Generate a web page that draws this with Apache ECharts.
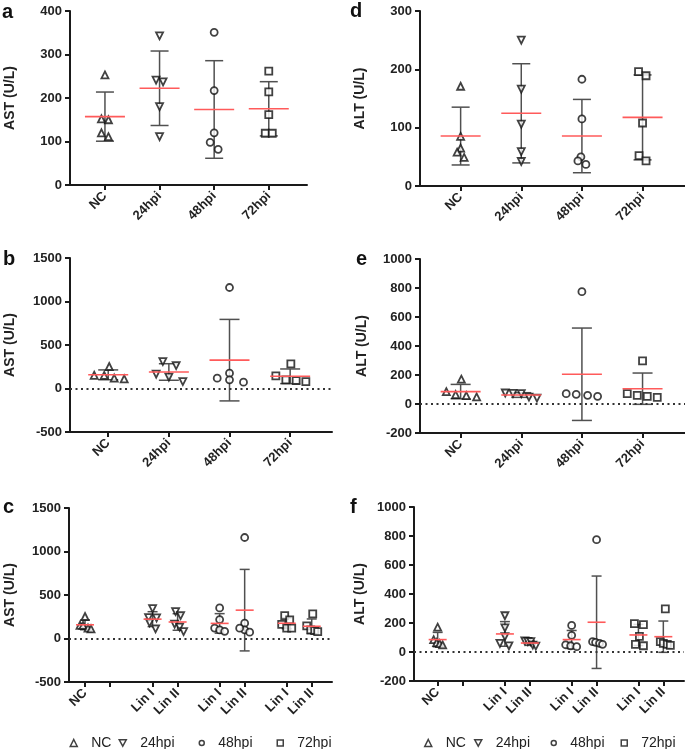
<!DOCTYPE html>
<html>
<head>
<meta charset="utf-8">
<script src="https://cdn.jsdelivr.net/npm/echarts@6/dist/echarts.min.js"></script>
<style>
  html, body { margin: 0; padding: 0; background: #fff; }
  #chart { width: 685px; height: 749px; }
</style>
</head>
<body>
<div id="chart"></div>
<script>
const groupNames = ['NC', '24hpi', '48hpi', '72hpi'];
const lineageNames = ['Lin I', 'Lin II'];

// AST (U/L): NC, then 24/48/72 hpi for each lineage
const astNC = [253, 152, 150, 120, 111];
const astLinI = [[343, 241, 237, 180, 111], [351, 217, 120, 98, 82], [262, 214, 162, 119, 119]];
const astLinII = [[165, 310, 130, 264, 80], [1161, 176, 100, 119, 73], [146, 100, 284, 92, 80]];

// ALT (U/L)
const altNC = [171, 85, 65, 58, 49];
const altLinI = [[250, 166, 106, 59, 42], [183, 115, 50, 43, 37], [196, 189, 108, 52, 43]];
const altLinII = [[76, 73, 71, 48, 41], [71, 67, 775, 60, 53], [71, 60, 298, 53, 46]];

// y ticks [min, max, step]
const astTicksA = [0, 400, 100];
const altTicksD = [0, 300, 100];
const astTicksBC = [-500, 1500, 500];
const altTicksEF = [-200, 1000, 200];

// horizontal scatter spread of the dots, in px
const jitterA = [[0, -3.5, 3.5, -3.5, 3.5], [0, -3.5, 3.5, 0, 0], [0, 0, 0, -4, 4], [0, 0, 0, -3.5, 3.5]];
const jitterD = [[0, 0, 0, -3.5, 3.5], [0, 0, 0, 0, 0], [0, 0, -1, -4, 4], [-4, 3.5, 0, -3.5, 3.5]];
const jitterB = [[1, -14, -4, 6, 16], [-12.7, -6, 0, 7.3, 14], [0, 0, 0, -12.3, 14], [-14.3, -4.3, 0.7, 6, 15.7]];
const jitterE = [[0.7, -14.3, -5, 5.7, 16], [-16, -8.3, 0, 7.7, 15.7], [-15.7, -5.7, 0, 5.7, 15.7], [-15.3, -5.3, 0, 4.7, 14.7]];
// c / f order: NC, Lin I 24/48/72, Lin II 24/48/72
const jitterC = [[0, -5, -2, 3, 6], [0, -4, 4, -3, 3], [0, 0, -5, 0, 5], [-2, 3, -5, 0, 5], [-3, -2, 2, 3, 6], [0, 0, 0, -5, 5], [-5, -1, 1, 3, 6]];
const jitterF = [[0, -4, -1, 2, 5], [0, 0, 0, -5, 4], [0, 0, -6, -1, 5], [-4, 5, 1, -3, 5], [-5, -2, 1, 3, 6], [-4, -1, 0, 3, 6], [-3, 0, 2, 4, 7]];

// layout of the combined panels (x slots)
const slotNC = 0, slotGap = 1;
const slotLinI = [2.7, 5.38, 8.06];
const slotLinII = [3.7, 6.38, 9.06];

const FONT = "'Liberation Sans', Arial, sans-serif";
const AXIS_COLOR = '#1a1a1a';
const symbols = ['triangle', 'triangle', 'circle', 'rect'];
const symbolRot = [0, 180, 0, 0];

function stats(vals) {
  const n = vals.length;
  const m = vals.reduce((a, b) => a + b, 0) / n;
  const sd = Math.sqrt(vals.reduce((a, b) => a + (b - m) * (b - m), 0) / (n - 1));
  return [m, sd];
}

// columns: {x, group, vals, jit}
function simpleCols(nc, lin, jit) {
  const cols = [{ x: 0, group: 0, vals: nc, jit: jit[0] }];
  lin.forEach((v, i) => cols.push({ x: i + 1, group: i + 1, vals: v, jit: jit[i + 1] }));
  return cols;
}
function comboCols(nc, linI, linII, jit) {
  const cols = [{ x: slotNC, group: 0, vals: nc, jit: jit[0] }];
  linI.forEach((v, i) => cols.push({ x: slotLinI[i], group: i + 1, vals: v, jit: jit[i + 1] }));
  linII.forEach((v, i) => cols.push({ x: slotLinII[i], group: i + 1, vals: v, jit: jit[i + 4] }));
  return cols;
}

const simpleTicks = [0, 1, 2, 3];
const comboTicks = [slotNC, slotGap].concat(slotLinI, slotLinII).sort((a, b) => a - b);
const comboLabelVals = [slotNC].concat(slotLinI, slotLinII).sort((a, b) => a - b);
function comboLabel(v) {
  if (v === slotNC) return 'NC';
  if (slotLinI.indexOf(v) >= 0) return lineageNames[0];
  if (slotLinII.indexOf(v) >= 0) return lineageNames[1];
  return '';
}

const panels = [
  { letter: 'a', lx: 2, ly: 22, grid: { left: 70, top: 11, width: 237, height: 174 }, xr: [-0.64, 3.7], ticks: astTicksA,
    name: 'AST (U/L)', gap: 53, cols: simpleCols(astNC, astLinI, jitterA), combo: false, cap: 9, half: 20, zero: false },
  { letter: 'd', lx: 350, ly: 21, grid: { left: 420, top: 11, width: 265, height: 175 }, xr: [-0.67, 3.7], ticks: altTicksD,
    name: 'ALT (U/L)', gap: 53, cols: simpleCols(altNC, altLinI, jitterD), combo: false, cap: 9, half: 20, zero: false },
  { letter: 'b', lx: 3, ly: 269, grid: { left: 70, top: 258, width: 262, height: 174 }, xr: [-0.63, 3.69], ticks: astTicksBC,
    name: 'AST (U/L)', gap: 53, cols: simpleCols(astNC, astLinII, jitterB), combo: false, cap: 10, half: 20, zero: true },
  { letter: 'e', lx: 356, ly: 269, grid: { left: 420, top: 259, width: 265, height: 174 }, xr: [-0.67, 3.7], ticks: altTicksEF,
    name: 'ALT (U/L)', gap: 51, cols: simpleCols(altNC, altLinII, jitterE), combo: false, cap: 10, half: 20, zero: true },
  { letter: 'c', lx: 3, ly: 517, grid: { left: 69, top: 508, width: 263, height: 174 }, xr: [-0.64, 9.87], ticks: astTicksBC,
    name: 'AST (U/L)', gap: 52, cols: comboCols(astNC, astLinI, astLinII, jitterC), combo: true, cap: 5, half: 9, zero: true },
  { letter: 'f', lx: 350, ly: 517, grid: { left: 414, top: 507, width: 270, height: 174 }, xr: [-0.95, 9.89], ticks: altTicksEF,
    name: 'ALT (U/L)', gap: 47, cols: comboCols(altNC, altLinI, altLinII, jitterF), combo: true, cap: 5, half: 9, zero: true }
];

const grids = [], xAxes = [], yAxes = [], series = [], graphics = [];

panels.forEach((p, pi) => {
  grids.push(Object.assign({ outerBoundsMode: 'none', containLabel: false }, p.grid));
  xAxes.push({
    type: 'value', gridIndex: pi, min: p.xr[0], max: p.xr[1],
    splitLine: { show: false },
    axisLine: { show: true, onZero: false, lineStyle: { color: AXIS_COLOR, width: 2 } },
    axisTick: { show: true, length: 5, customValues: p.combo ? comboTicks : simpleTicks, lineStyle: { color: AXIS_COLOR, width: 2 } },
    axisLabel: {
      customValues: p.combo ? comboLabelVals : simpleTicks, rotate: 45, margin: 9,
      fontSize: 13, fontWeight: 'bold', color: '#222', fontFamily: FONT,
      formatter: v => (p.combo ? comboLabel(v) : groupNames[v])
    }
  });
  yAxes.push({
    type: 'value', gridIndex: pi, min: p.ticks[0], max: p.ticks[1], interval: p.ticks[2],
    name: p.name, nameLocation: 'middle', nameGap: p.gap,
    nameTextStyle: { fontSize: 14, fontWeight: 'bold', color: '#222', fontFamily: FONT },
    splitLine: { show: false },
    axisLine: { show: true, onZero: false, lineStyle: { color: AXIS_COLOR, width: 2 } },
    axisTick: { show: true, length: 5, lineStyle: { color: AXIS_COLOR, width: 2 } },
    axisLabel: { fontSize: 13, fontWeight: 'bold', color: '#222', fontFamily: FONT, margin: 8, formatter: v => String(v) }
  });

  // error bars (mean ± SD)
  const summary = p.cols.map(c => { const s = stats(c.vals); return [c.x, s[0], s[1]]; });
  const errSeries = {
    type: 'custom', xAxisIndex: pi, yAxisIndex: pi, z: 1, silent: true,
    encode: { x: 0, y: 1 },
    data: summary,
    renderItem: (params, api) => {
      const x = api.value(0), m = api.value(1), s = api.value(2);
      const hi = api.coord([x, m + s]), lo = api.coord([x, m - s]);
      const st = { stroke: '#505050', lineWidth: 1.5 };
      return {
        type: 'group', children: [
          { type: 'line', shape: { x1: hi[0], y1: hi[1], x2: lo[0], y2: lo[1] }, style: st },
          { type: 'line', shape: { x1: hi[0] - p.cap, y1: hi[1], x2: hi[0] + p.cap, y2: hi[1] }, style: st },
          { type: 'line', shape: { x1: lo[0] - p.cap, y1: lo[1], x2: lo[0] + p.cap, y2: lo[1] }, style: st }
        ]
      };
    }
  };
  if (p.zero) {
    errSeries.markLine = {
      silent: true, symbol: 'none', label: { show: false },
      lineStyle: { color: '#333', width: 2, type: [2, 3.5] },
      data: [{ yAxis: 0 }]
    };
  }
  series.push(errSeries);

  // dots per group
  groupNames.forEach((g, gi) => {
    const pts = [];
    p.cols.filter(c => c.group === gi).forEach(c => {
      c.vals.forEach((v, k) => pts.push({ value: [c.x, v], symbolOffset: [c.jit[k], 0] }));
    });
    series.push({
      type: 'scatter', name: g, xAxisIndex: pi, yAxisIndex: pi, z: 2,
      symbol: symbols[gi], symbolRotate: symbolRot[gi], symbolSize: 7,
      itemStyle: { color: '#fff', borderColor: '#111', borderWidth: 1.8 },
      data: pts
    });
  });

  // mean line
  series.push({
    type: 'custom', xAxisIndex: pi, yAxisIndex: pi, z: 3, silent: true,
    encode: { x: 0, y: 1 },
    data: summary,
    renderItem: (params, api) => {
      const c = api.coord([api.value(0), api.value(1)]);
      return {
        type: 'line', shape: { x1: c[0] - p.half, y1: c[1], x2: c[0] + p.half, y2: c[1] },
        style: { stroke: '#ff5a5a', lineWidth: 1.6 }
      };
    }
  });

  graphics.push({
    type: 'text', x: p.lx, y: p.ly,
    style: { text: p.letter, font: 'bold 20px ' + FONT, fill: '#111', verticalAlign: 'bottom' }
  });
});

// legends under c and f
const legendIcons = ['triangle', 'path://M0,0L10,0L5,9Z', 'circle', 'rect'];
const legendSizes = [7, 7, 5, 6];
const legendLefts = [[64.5, 113.5, 193.5, 271.5], [419, 469, 545.5, 615.5]];
const legends = [];
legendLefts.forEach(row => {
  row.forEach((left, gi) => {
    legends.push({
      left: left, top: 731, selectedMode: false,
      itemWidth: legendSizes[gi], itemHeight: legendSizes[gi],
      itemStyle: { color: '#fff', borderColor: '#111', borderWidth: 1.5 },
      data: [{ name: groupNames[gi], icon: legendIcons[gi] }],
      textStyle: { fontSize: 14, color: '#222', fontFamily: FONT, padding: [0, 0, 0, 9] }
    });
  });
});

const chart = echarts.init(document.getElementById('chart'), null, { renderer: 'canvas' });
chart.setOption({
  animation: false,
  backgroundColor: '#fff',
  textStyle: { fontFamily: FONT },
  grid: grids,
  xAxis: xAxes,
  yAxis: yAxes,
  legend: legends,
  graphic: graphics,
  series: series
});
</script>
</body>
</html>
